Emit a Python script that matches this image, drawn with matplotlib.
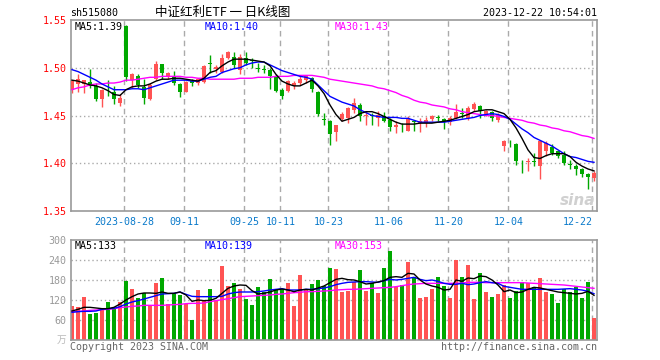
import matplotlib
matplotlib.use('Agg')
import matplotlib.pyplot as plt
import numpy as np

plt.rcParams['font.family'] = ['DejaVu Sans Mono', 'Noto Sans CJK SC']

# 交易日 2023-08-15 .. 2023-12-22
dates = ['08-15', '08-16', '08-17', '08-18', '08-21', '08-22', '08-23', '08-24', '08-25',
         '08-28', '08-29', '08-30', '08-31', '09-01', '09-04', '09-05', '09-06', '09-07', '09-08',
         '09-11', '09-12', '09-13', '09-14', '09-15', '09-18', '09-19', '09-20', '09-21', '09-22',
         '09-25', '09-26', '09-27', '09-28', '10-09', '10-10', '10-11', '10-12', '10-13',
         '10-16', '10-17', '10-18', '10-19', '10-20', '10-23', '10-24', '10-25', '10-26', '10-27',
         '10-30', '10-31', '11-01', '11-02', '11-03', '11-06', '11-07', '11-08', '11-09', '11-10',
         '11-13', '11-14', '11-15', '11-16', '11-17', '11-20', '11-21', '11-22', '11-23', '11-24',
         '11-27', '11-28', '11-29', '11-30', '12-01', '12-04', '12-05', '12-06', '12-07', '12-08',
         '12-11', '12-12', '12-13', '12-14', '12-15', '12-18', '12-19', '12-20', '12-21', '12-22']

open_ = [1.477, 1.483, 1.483, 1.485, 1.481, 1.467, 1.473, 1.475, 1.463, 1.544,
         1.487, 1.491, 1.480, 1.467, 1.488, 1.504, 1.491, 1.491, 1.483, 1.475,
         1.486, 1.484, 1.485, 1.505, 1.499, 1.496, 1.510, 1.511, 1.498, 1.510,
         1.508, 1.500, 1.498, 1.498, 1.491, 1.477, 1.476, 1.481, 1.484, 1.4875,
         1.489, 1.475, 1.446, 1.444, 1.433, 1.446, 1.447, 1.456, 1.461, 1.449,
         1.450, 1.447, 1.450, 1.445, 1.438, 1.4383, 1.434, 1.4443, 1.442, 1.442,
         1.446, 1.4485, 1.446, 1.443, 1.447, 1.4523, 1.447, 1.457, 1.460, 1.452,
         1.454, 1.445, 1.418, 1.4215, 1.4205, 1.4016, 1.4017, 1.4023, 1.3975, 1.413,
         1.417, 1.4125, 1.409, 1.3988, 1.3975, 1.394, 1.389, 1.385]
close = [1.486, 1.488, 1.487, 1.481, 1.467, 1.477, 1.472, 1.467, 1.468, 1.490,
         1.493, 1.482, 1.468, 1.482, 1.504, 1.494, 1.495, 1.484, 1.475, 1.485,
         1.484, 1.488, 1.502, 1.504, 1.501, 1.510, 1.517, 1.503, 1.511, 1.505,
         1.507, 1.499, 1.4975, 1.491, 1.476, 1.470, 1.4865, 1.484, 1.488, 1.4917,
         1.478, 1.4516, 1.4453, 1.431, 1.4397, 1.4516, 1.4579, 1.4631, 1.4491, 1.4509,
         1.4495, 1.4502, 1.4439, 1.438, 1.4404, 1.4376, 1.4474, 1.4436, 1.4446, 1.4457,
         1.4499, 1.4478, 1.4432, 1.4474, 1.4537, 1.4516, 1.4579, 1.4621, 1.4551, 1.4551,
         1.4474, 1.4509, 1.4237, 1.4209, 1.4027, 1.401, 1.4024, 1.4017, 1.423, 1.4212,
         1.4108, 1.4073, 1.4003, 1.3982, 1.394, 1.3888, 1.3856, 1.3898]
high = [1.487, 1.493, 1.487, 1.499, 1.484, 1.478, 1.487, 1.481, 1.472, 1.545,
        1.495, 1.493, 1.488, 1.484, 1.507, 1.504, 1.496, 1.497, 1.484, 1.486,
        1.488, 1.489, 1.503, 1.513, 1.503, 1.514, 1.518, 1.517, 1.514, 1.517,
        1.510, 1.505, 1.503, 1.500, 1.493, 1.479, 1.4875, 1.4865, 1.491, 1.4928,
        1.490, 1.476, 1.4526, 1.445, 1.4404, 1.4537, 1.4586, 1.4683, 1.4631, 1.4544,
        1.4526, 1.4551, 1.4537, 1.4474, 1.4439, 1.4422, 1.4491, 1.4457, 1.4471, 1.4481,
        1.4509, 1.4509, 1.4474, 1.4491, 1.4621, 1.4579, 1.4596, 1.4641, 1.4607, 1.4558,
        1.4551, 1.4526, 1.4247, 1.424, 1.4212, 1.4038, 1.4055, 1.4108, 1.4237, 1.423,
        1.4202, 1.4132, 1.4125, 1.4038, 1.3992, 1.395, 1.3898, 1.3915]
low = [1.474, 1.475, 1.474, 1.479, 1.465, 1.459, 1.470, 1.462, 1.460, 1.486,
       1.479, 1.479, 1.462, 1.466, 1.487, 1.488, 1.488, 1.482, 1.469, 1.475,
       1.481, 1.482, 1.484, 1.495, 1.494, 1.495, 1.509, 1.500, 1.493, 1.503,
       1.500, 1.496, 1.494, 1.478, 1.475, 1.467, 1.475, 1.478, 1.482, 1.484,
       1.475, 1.450, 1.4404, 1.4195, 1.4237, 1.4439, 1.4418, 1.4526, 1.4439, 1.4397,
       1.4404, 1.4387, 1.4432, 1.4341, 1.4317, 1.4324, 1.4334, 1.4341, 1.4324, 1.4376,
       1.4446, 1.4439, 1.4359, 1.4404, 1.4467, 1.4474, 1.4457, 1.4551, 1.4474, 1.4495,
       1.4446, 1.4432, 1.4132, 1.417, 1.3985, 1.3898, 1.3915, 1.3968, 1.3839, 1.4073,
       1.409, 1.4055, 1.3985, 1.3943, 1.3881, 1.3853, 1.3734, 1.3818]

# 均线
ma5 = [1.487, 1.486, 1.484, 1.482, 1.481, 1.479, 1.476, 1.472, 1.471, 1.477,
       1.480, 1.481, 1.481, 1.483, 1.486, 1.488, 1.488, 1.489, 1.489, 1.488,
       1.487, 1.486, 1.489, 1.495, 1.497, 1.502, 1.506, 1.509, 1.509, 1.509,
       1.508, 1.507, 1.506, 1.502, 1.493, 1.486, 1.483, 1.481, 1.481, 1.484,
       1.487, 1.481, 1.473, 1.461, 1.451, 1.444, 1.446, 1.448, 1.452, 1.454,
       1.454, 1.452, 1.449, 1.446, 1.443, 1.441, 1.441, 1.441, 1.442, 1.442,
       1.442, 1.443, 1.444, 1.445, 1.447, 1.449, 1.451, 1.454, 1.455, 1.456,
       1.456, 1.454, 1.452, 1.446, 1.437, 1.426, 1.414, 1.406, 1.405, 1.408,
       1.410, 1.410, 1.410, 1.407, 1.401, 1.397, 1.394, 1.392]
ma10 = [1.498, 1.496, 1.493, 1.490, 1.487, 1.483, 1.480, 1.477, 1.477, 1.477,
        1.478, 1.478, 1.477, 1.479, 1.481, 1.483, 1.485, 1.487, 1.487, 1.487,
        1.486, 1.486, 1.488, 1.490, 1.491, 1.495, 1.497, 1.499, 1.500, 1.503,
        1.505, 1.506, 1.506, 1.503, 1.500, 1.497, 1.495, 1.493, 1.491, 1.490,
        1.488, 1.482, 1.476, 1.470, 1.467, 1.464, 1.462, 1.460, 1.456, 1.453,
        1.450, 1.449, 1.448, 1.448, 1.448, 1.447, 1.447, 1.445, 1.443, 1.443,
        1.443, 1.443, 1.443, 1.444, 1.445, 1.446, 1.447, 1.448, 1.450, 1.451,
        1.452, 1.451, 1.449, 1.446, 1.441, 1.436, 1.432, 1.427, 1.424, 1.421,
        1.418, 1.414, 1.410, 1.407, 1.406, 1.404, 1.402, 1.401]
ma30 = [1.477, 1.479, 1.480, 1.482, 1.483, 1.483, 1.484, 1.484, 1.485, 1.487,
        1.487, 1.488, 1.489, 1.490, 1.490, 1.491, 1.491, 1.491, 1.491, 1.490,
        1.490, 1.489, 1.489, 1.488, 1.488, 1.488, 1.488, 1.488, 1.489, 1.489,
        1.489, 1.490, 1.490, 1.490, 1.491, 1.491, 1.491, 1.492, 1.492, 1.492,
        1.492, 1.491, 1.490, 1.488, 1.487, 1.486, 1.485, 1.484, 1.483, 1.482,
        1.481, 1.479, 1.478, 1.476, 1.474, 1.471, 1.469, 1.466, 1.464, 1.463,
        1.461, 1.460, 1.459, 1.457, 1.456, 1.454, 1.453, 1.452, 1.451, 1.450,
        1.450, 1.449, 1.448, 1.447, 1.446, 1.445, 1.443, 1.442, 1.440, 1.439,
        1.437, 1.436, 1.434, 1.433, 1.431, 1.429, 1.428, 1.426]

# 成交量 (万)
volume = [102, 98, 129, 78, 81, 94, 114, 94, 114, 177,
          153, 126, 140, 104, 171, 186, 108, 140, 135, 108,
          60, 150, 120, 153, 120, 223, 162, 171, 153, 123,
          105, 159, 144, 183, 153, 153, 171, 102, 195, 150,
          168, 180, 162, 216, 213, 144, 147, 175, 210, 147,
          170, 141, 216, 267, 159, 165, 234, 190, 126, 129,
          153, 189, 162, 126, 240, 189, 225, 123, 201, 144,
          129, 138, 165, 126, 147, 174, 171, 159, 186, 144,
          138, 111, 153, 144, 159, 126, 174, 66]
vma5 = [87, 92, 98, 98, 96, 94, 94, 98, 108, 120,
        130, 138, 141, 141, 140, 144, 140, 140, 144, 135,
        116, 120, 118, 119, 125, 140, 155, 162, 165, 164,
        148, 138, 140, 144, 150, 153, 150, 145, 150, 152,
        150, 156, 162, 172, 182, 185, 181, 180, 175, 168,
        170, 174, 178, 188, 190, 188, 200, 198, 180, 168,
        162, 158, 150, 152, 180, 176, 186, 184, 192, 190,
        180, 165, 145, 150, 142, 144, 152, 158, 156, 152,
        148, 144, 142, 140, 138, 140, 146, 134]
vma10 = [83, 85, 86, 86, 87, 92, 94, 95, 100, 108,
         114, 118, 123, 128, 133, 138, 139, 140, 144, 137,
         131, 130, 130, 130, 130, 131, 138, 142, 144, 144,
         144, 145, 147, 150, 152, 154, 150, 150, 150, 152,
         152, 154, 156, 160, 166, 170, 173, 174, 175, 175,
         174, 173, 178, 182, 180, 182, 185, 188, 182, 178,
         180, 176, 170, 167, 167, 170, 166, 168, 172, 175,
         172, 170, 161, 158, 155, 152, 152, 152, 152, 152,
         152, 152, 153, 154, 152, 150, 146, 139]
vma30 = [85, 86, 87, 89, 90, 91, 92, 94, 97, 99,
         101, 102, 104, 104, 104, 104, 105, 106, 107, 109,
         110, 110, 111, 115, 118, 121, 124, 127, 130, 131,
         132, 133, 134, 135, 137, 138, 140, 142, 143, 145,
         145, 146, 147, 148, 150, 151, 152, 152, 153, 154,
         155, 156, 157, 158, 160, 163, 166, 168, 169, 170,
         170, 170, 170, 170, 170, 171, 173, 173, 173, 172,
         172, 172, 172, 172, 172, 172, 171, 170, 169, 168,
         167, 166, 165, 163, 161, 159, 157, 155]

tick_idx = [9, 19, 29, 35, 43, 53, 63, 73, 87]
tick_txt = ['2023-08-28'] + [dates[i] for i in tick_idx[1:]]

RED = '#ff5353'
GREEN = '#00a800'
GRID = '#aaaaaa'

W, H = 660, 360
fig = plt.figure(figsize=(W / 100, H / 100), dpi=100)
fig.patch.set_facecolor('white')


def box(l, t, r, b):
    return [l / W, 1 - b / H, (r - l) / W, (b - t) / H]


ax1 = fig.add_axes(box(70.5, 20, 597, 211))
ax2 = fig.add_axes(box(70.5, 240, 597, 340))

x = np.arange(len(dates))
o = np.array(open_)
c = np.array(close)
cols = np.where(c >= o, RED, GREEN)
gx = np.array(tick_idx) - 0.28

for ax in (ax1, ax2):
    ax.set_xlim(-0.25, 87.5)
    for s in ax.spines.values():
        s.set_color('#999999')
        s.set_linewidth(1.2)
    for g in gx:
        ax.axvline(g, color=GRID, lw=1, ls=(0, (4, 3)), zorder=0)
    ax.tick_params(axis='both', length=0)

# K线
ax1.set_ylim(1.35, 1.55)
for lv in [1.40, 1.45, 1.50]:
    ax1.axhline(lv, color=GRID, lw=1, ls=(0, (1, 2)), zorder=0)
ax1.vlines(x, low, high, colors=cols, lw=1, zorder=2)
body = np.maximum(np.abs(c - o), 0.001)
ax1.bar(x, body, width=0.78, bottom=(o + c) / 2 - body / 2, color=cols,
        edgecolor='none', zorder=3)
ax1.plot(x, ma30, color='#ff00ff', lw=1, zorder=4)
ax1.plot(x, ma10, color='#0000ff', lw=1, zorder=4)
ax1.plot(x, ma5, color='black', lw=1, zorder=4)

ax1.set_yticks([1.35, 1.40, 1.45, 1.50, 1.55])
ax1.set_yticklabels(['%.2f' % v for v in [1.35, 1.40, 1.45, 1.50, 1.55]],
                    color='red', fontsize=7.2)
ax1.tick_params(axis='y', pad=3)
ax1.set_xticks(gx)
ax1.set_xticklabels(tick_txt, color='#0a7acb', fontsize=7.2)
ax1.tick_params(axis='x', pad=4)
ax1.get_xticklabels()[-1].set_horizontalalignment('right')

# 水印
ax1.text(0.997, 0.055, 'sina', transform=ax1.transAxes, color='#d0d0d0',
         fontsize=11, fontweight='bold', style='italic', ha='right', va='center',
         family='DejaVu Sans', zorder=1)

# 成交量
ax2.set_ylim(0, 300)
for lv in [60, 120, 180, 240]:
    ax2.axhline(lv, color=GRID, lw=1, ls=(0, (1, 2)), zorder=0)
ax2.bar(x, volume, width=0.82, color=cols, edgecolor='none', zorder=2)
ax2.plot(x, vma30, color='#ff00ff', lw=1, zorder=3)
ax2.plot(x, vma10, color='#0000ff', lw=1, zorder=3)
ax2.plot(x, vma5, color='black', lw=1, zorder=3)
ax2.set_yticks([60, 120, 180, 240, 300])
ax2.set_yticklabels(['60', '120', '180', '240', '300'], color='#999999', fontsize=7.2)
ax2.tick_params(axis='y', pad=3)
ax2.set_xticks([])


def put(px, py, s, **kw):
    fig.text(px / W, 1 - py / H, s, va='center', **kw)


put(70, 13, 'sh515080', fontsize=7.2, color='black')
put(223, 12, '中证红利ETF 一 日K线图', fontsize=9, color='black', ha='center',
    family=['Noto Sans CJK SC', 'DejaVu Sans'])
put(597, 13, '2023-12-22 10:54:01', fontsize=7.2, color='black', ha='right')

put(75, 27, 'MA5:1.39', fontsize=7.2, color='black')
put(205, 27, 'MA10:1.40', fontsize=7.2, color='#0000ff')
put(335, 27, 'MA30:1.43', fontsize=7.2, color='#ff00ff')

put(75, 246, 'MA5:133', fontsize=7.2, color='black')
put(205, 246, 'MA10:139', fontsize=7.2, color='#0000ff')
put(335, 246, 'MA30:153', fontsize=7.2, color='#ff00ff')

put(62, 340, '万', fontsize=7, color='#bbbbbb', ha='center',
    family=['Noto Sans CJK SC', 'DejaVu Sans'])
put(70, 347, 'Copyright 2023 SINA.COM', fontsize=7.2, color='#666666')
put(597, 347, 'http://finance.sina.com.cn', fontsize=7.2, color='#666666', ha='right')

fig.savefig('out.png', dpi=100)
